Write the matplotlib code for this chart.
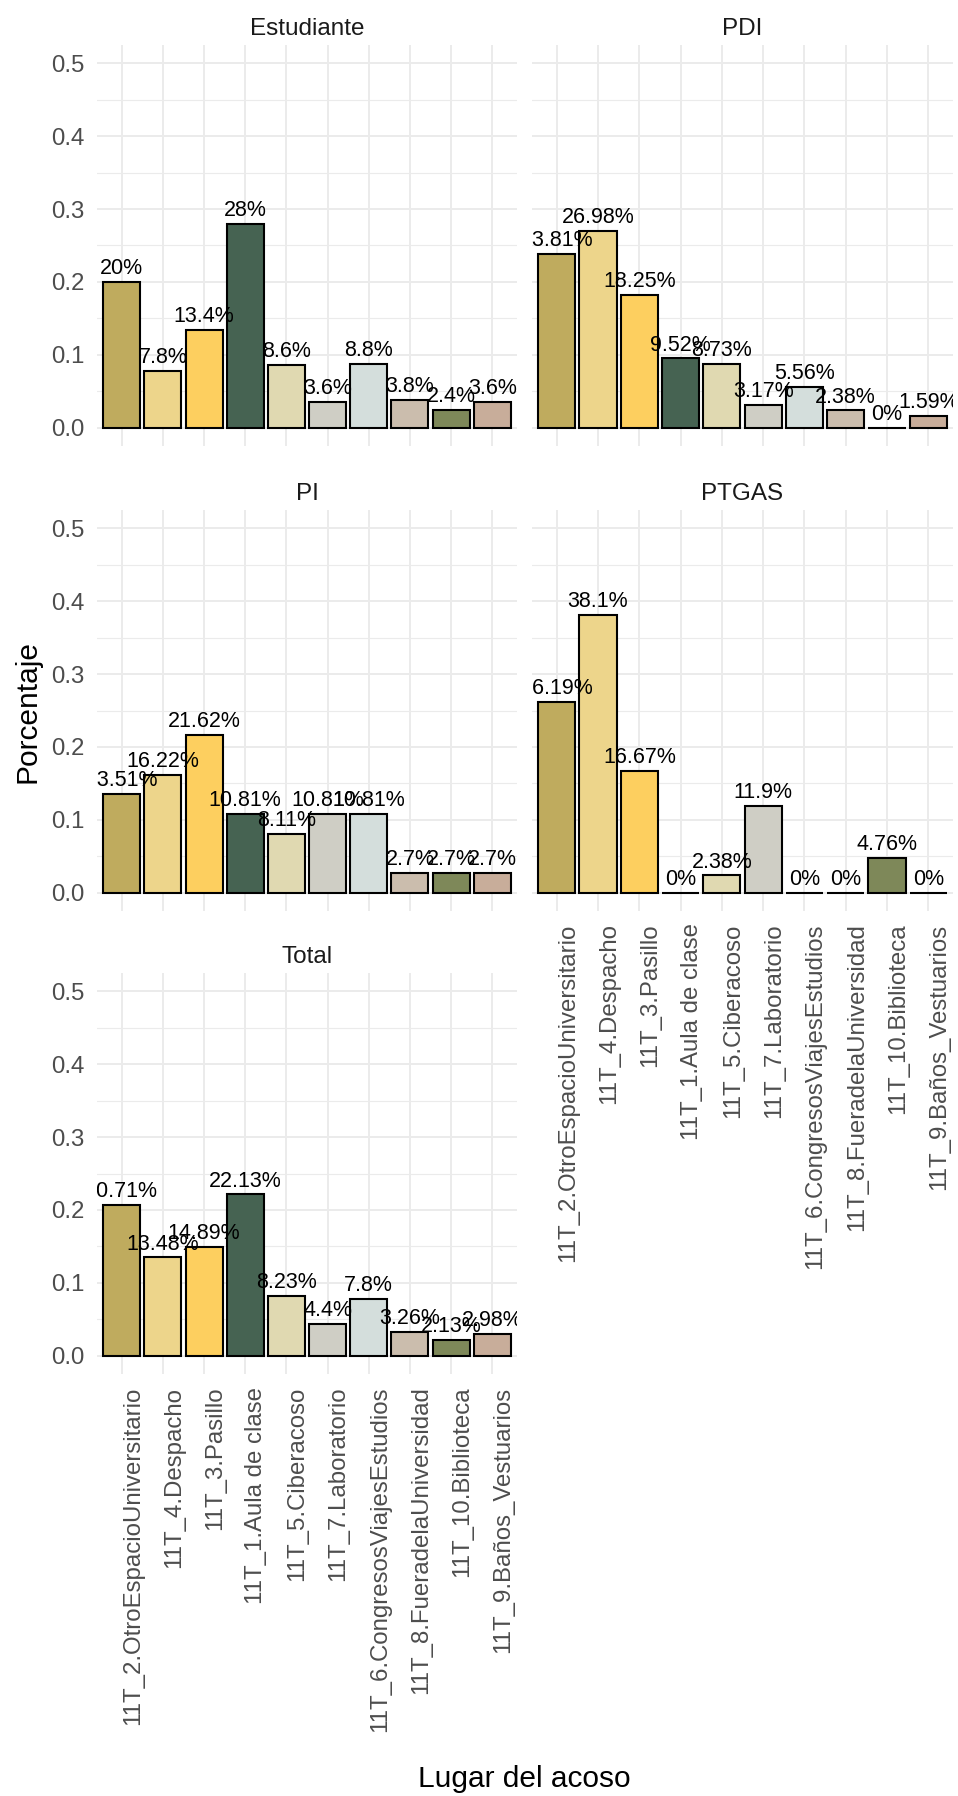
import numpy as np
import matplotlib
matplotlib.use("Agg")
import matplotlib.pyplot as plt
from matplotlib.ticker import MultipleLocator

plt.rcParams['font.family'] = ['Liberation Sans', 'DejaVu Sans']

# categories in plotting order
lugares = [
    '11T_2.OtroEspacioUniversitario', '11T_4.Despacho', '11T_3.Pasillo',
    '11T_1.Aula de clase', '11T_5.Ciberacoso', '11T_7.Laboratorio',
    '11T_6.CongresosViajesEstudios', '11T_8.FueradelaUniversidad',
    '11T_10.Biblioteca', '11T_9.Baños_Vestuarios',
]
colores = ['#BFAB5E', '#EDD58B', '#FDCF5F', '#466352', '#E0D9B1',
           '#CFCEC5', '#D4DEDC', '#CBBDAD', '#7E8859', '#C8AD9A']

# shares per group (fraction)
estudiante = [0.20, 0.078, 0.134, 0.28, 0.086, 0.036, 0.088, 0.038, 0.024, 0.036]
pdi = [0.2381, 0.2698, 0.1825, 0.0952, 0.0873, 0.0317, 0.0556, 0.0238, 0.0, 0.0159]
pi = [0.1351, 0.1622, 0.2162, 0.1081, 0.0811, 0.1081, 0.1081, 0.027, 0.027, 0.027]
ptgas = [0.2619, 0.381, 0.1667, 0.0, 0.0238, 0.119, 0.0, 0.0, 0.0476, 0.0]
total = [0.2071, 0.1348, 0.1489, 0.2213, 0.0823, 0.044, 0.078, 0.0326, 0.0213, 0.0298]

paneles = [
    ('Estudiante', estudiante, 0, 0),
    ('PDI', pdi, 0, 1),
    ('PI', pi, 1, 0),
    ('PTGAS', ptgas, 1, 1),
    ('Total', total, 2, 0),
]

W, H = 958, 1796
fig = plt.figure(figsize=(W / 100, H / 100), dpi=100)

col_left = [97, 532]
col_w = [420, 421]
row_top = [45, 510, 973]
row_h = 401

x = np.arange(1, len(lugares) + 1)

for nombre, vals, r, c in paneles:
    left = col_left[c] / W
    bottom = (H - row_top[r] - row_h) / H
    ax = fig.add_axes([left, bottom, col_w[c] / W, row_h / H])

    ax.bar(x, vals, width=0.9, color=colores, edgecolor='black',
           linewidth=1.5, zorder=2)
    # labels sit on top of the bars, clipped by the panel
    for xi, v in zip(x, vals):
        lbl = f"{round(v * 100, 2):g}%"
        ax.annotate(lbl, (xi, v), xytext=(0, 2), textcoords='offset points',
                    ha='center', va='bottom', fontsize=15.5, color='black',
                    zorder=3, clip_on=True)

    ax.set_xlim(0.4, 10.6)
    ax.set_ylim(-0.025, 0.525)
    ax.yaxis.set_major_locator(MultipleLocator(0.1))
    ax.yaxis.set_minor_locator(MultipleLocator(0.05))
    ax.set_axisbelow(True)
    ax.grid(which='major', color='#EBEBEB', linewidth=1.4)
    ax.grid(which='minor', axis='y', color='#EBEBEB', linewidth=0.8)
    for s in ax.spines.values():
        s.set_visible(False)
    ax.tick_params(which='both', length=0)

    ax.set_xticks(x)
    last_row = (c == 0 and r == 2) or (c == 1 and r == 1)
    if last_row:
        ax.set_xticklabels(lugares, rotation=90, ha='left', va='top',
                           fontsize=17.3, color='#4D4D4D')
        ax.tick_params(axis='x', pad=9)
    else:
        ax.set_xticklabels([])

    if c == 0:
        ax.set_yticks([0.0, 0.1, 0.2, 0.3, 0.4, 0.5])
        ax.set_yticklabels(['0.0', '0.1', '0.2', '0.3', '0.4', '0.5'],
                           fontsize=17.3, color='#4D4D4D')
        ax.tick_params(axis='y', pad=9)
    else:
        ax.set_yticklabels([])

    ax.set_title(nombre, fontsize=17.5, color='#1A1A1A', pad=7)

fig.text(27 / W, 1 - 711 / H, 'Porcentaje', rotation=90, ha='center',
         va='center', fontsize=21.5)
fig.text(524 / W, 1 - 1779 / H, 'Lugar del acoso', ha='center',
         va='center', fontsize=21.5)

fig.savefig('out.png', dpi=100, facecolor='white')
